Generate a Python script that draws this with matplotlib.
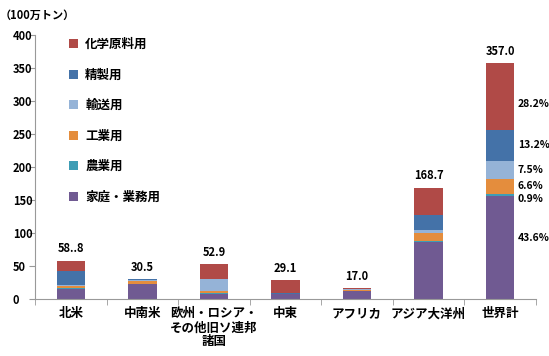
import numpy as np
import matplotlib
matplotlib.use('Agg')
import matplotlib.pyplot as plt

plt.rcParams['font.family'] = ['Noto Sans CJK JP', 'DejaVu Sans']

regions = ['北米', '中南米', '欧州・ロシア・\nその他旧ソ連邦\n諸国', '中東', 'アフリカ', 'アジア大洋州', '世界計']
uses = ['家庭・業務用', '農業用', '工業用', '輸送用', '精製用', '化学原料用']

household = [15.5, 22.5, 8.0, 7.0, 12.0, 87.0, 155.7]
agri = [1.0, 0.5, 0.5, 0.2, 0.3, 1.0, 3.2]
industry = [3.0, 4.0, 4.0, 0.3, 0.7, 11.5, 23.6]
transport = [1.5, 2.5, 17.5, 0.5, 2.0, 5.0, 26.8]
refining = [22.0, 0.5, 0.5, 1.0, 0.5, 23.5, 47.1]
chemical = [15.3, 0.5, 22.4, 20.1, 1.5, 40.7, 100.6]

total_labels = ['58..8', '30.5', '52.9', '29.1', '17.0', '168.7', '357.0']
world_pct = ['43.6%', '0.9%', '6.6%', '7.5%', '13.2%', '28.2%']

colors = ['#705A92', '#3E9DB5', '#E48D3D', '#95B3D7', '#4472A8', '#B04A47']

fig = plt.figure(figsize=(5.49, 3.56), dpi=100)
ax = fig.add_axes([0.064, 0.160, 0.912, 0.742])

series = [household, agri, industry, transport, refining, chemical]
x = np.arange(len(regions))
bottom = np.zeros(len(regions))
handles = []
for vals, c, name in zip(series, colors, uses):
    h = ax.bar(x, vals, 0.4, bottom=bottom, color=c, label=name, linewidth=0)
    handles.append(h)
    bottom += np.array(vals)

for xi, top, lab in zip(x, bottom, total_labels):
    ax.text(xi, top + 8, lab, ha='center', va='bottom', fontsize=8, fontweight='bold')

# percentage labels next to the world bar
offsets = [15, -6, 0, 0, 0, -12]
cum = 0
for vals, pct, off in zip(series, world_pct, offsets):
    v = vals[-1]
    ax.text(6.25, cum + v / 2 + off, pct, ha='left', va='center', fontsize=7.5, fontweight='bold')
    cum += v

ax.set_xlim(-0.5, 6.5)
ax.set_ylim(0, 400)
ax.set_yticks(np.arange(0, 401, 50))
ax.set_xticks(x)
ax.set_xticklabels(regions, fontsize=9, fontweight='bold', linespacing=1.1)
ax.set_xticks(np.arange(-0.5, 6.6, 1), minor=True)
ax.tick_params(axis='x', which='major', length=0, pad=6)
ax.tick_params(axis='x', which='minor', length=4, color='#999999')
ax.tick_params(axis='y', length=4, color='#999999', labelsize=8, pad=12)
for t in ax.get_yticklabels():
    t.set_fontweight('bold')
    t.set_horizontalalignment('left')
for s in ['top', 'right']:
    ax.spines[s].set_visible(False)
for s in ['left', 'bottom']:
    ax.spines[s].set_color('#999999')

leg = ax.legend(handles[::-1], uses[::-1], loc='upper left', bbox_to_anchor=(0.045, 1.03),
                frameon=False, handlelength=0.7, handleheight=0.7, handletextpad=0.6,
                labelspacing=1.4, prop={'size': 9, 'weight': 'bold'})

fig.text(0.0, 0.975, '（100万トン）', fontsize=8, fontweight='bold', va='top', ha='left')

fig.savefig('out.png', dpi=100)
